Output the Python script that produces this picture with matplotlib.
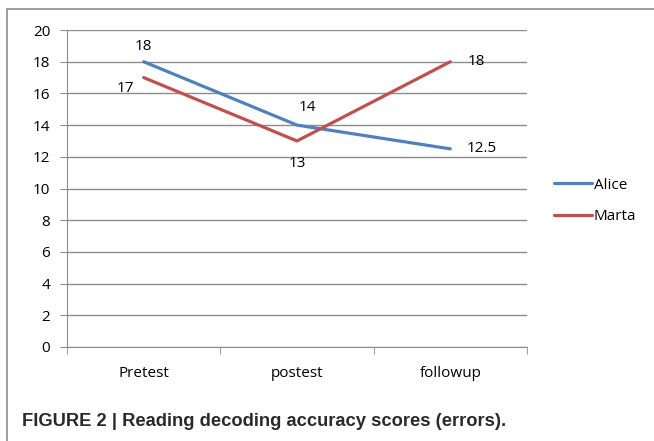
import matplotlib.pyplot as plt
from matplotlib.patches import Rectangle

categories = ["Pretest", "postest", "followup"]
alice = [18, 14, 12.5]
marta = [17, 13, 18]
alice_labels = ["18", "14", "12.5"]
marta_labels = ["17", "13", "18"]

plt.rcParams['font.family'] = ['Open Sans', 'DejaVu Sans']

fig = plt.figure(figsize=(6.54, 4.41), dpi=100)
ax = fig.add_axes([67/654, 94/441, 460/654, 317/441])

# outer frame
fig.patches.append(Rectangle((7/654, -0.05), 1.2, (441-9)/441 + 0.05, transform=fig.transFigure,
                             fill=False, edgecolor='#8c8c8c', linewidth=1.2))

x = range(len(categories))
ax.plot(x, alice, color='#4F81BD', lw=2.3, label='Alice', solid_capstyle='round')
ax.plot(x, marta, color='#C0504D', lw=2.3, label='Marta', solid_capstyle='round')

# data labels (offsets in pixels)
a_off = [(0, 15, 'center', 'center'), (10, 18, 'center', 'center'), (16, 0, 'left', 'center')]
m_off = [(-18, -11, 'center', 'center'), (0, -23, 'center', 'center'), (17, 0, 'left', 'center')]
for i in x:
    dx, dy, ha, va = a_off[i]
    ax.annotate(alice_labels[i], (i, alice[i]), xytext=(dx, dy), textcoords='offset pixels',
                ha=ha, va=va, fontsize=11)
    dx, dy, ha, va = m_off[i]
    ax.annotate(marta_labels[i], (i, marta[i]), xytext=(dx, dy), textcoords='offset pixels',
                ha=ha, va=va, fontsize=11)

ax.set_xlim(-0.5, 2.5)
ax.set_ylim(0, 20)
ax.set_yticks(range(0, 21, 2))
ax.set_xticks(list(x))
ax.set_xticklabels(categories)
ax.set_xticks([-0.5, 0.5, 1.5, 2.5], minor=True)
ax.tick_params(axis='x', which='major', length=0, pad=14, labelsize=11)
ax.tick_params(axis='x', which='minor', length=5, color='#8c8c8c', direction='out')
ax.tick_params(axis='y', length=5, color='#8c8c8c', pad=7, labelsize=11)
ax.yaxis.grid(True, color='#8c8c8c', lw=1)
ax.set_axisbelow(True)
for s in ['top', 'right']:
    ax.spines[s].set_visible(False)
ax.spines['left'].set_color('#8c8c8c')
ax.spines['bottom'].set_color('#8c8c8c')

fig.legend(loc='center left', bbox_to_anchor=(548/654, 1 - 201/441), frameon=False,
           fontsize=11, handlelength=2.5, handletextpad=0.1, labelspacing=1.1,
           borderaxespad=0)

fig.text(22/654, 1 - 422/441, "FIGURE 2 | Reading decoding accuracy scores (errors).",
         fontsize=13.2, fontweight='bold', color='#2a2a2a', va='center',
         family=['Liberation Sans', 'DejaVu Sans'])

fig.savefig('out.png', dpi=100)
